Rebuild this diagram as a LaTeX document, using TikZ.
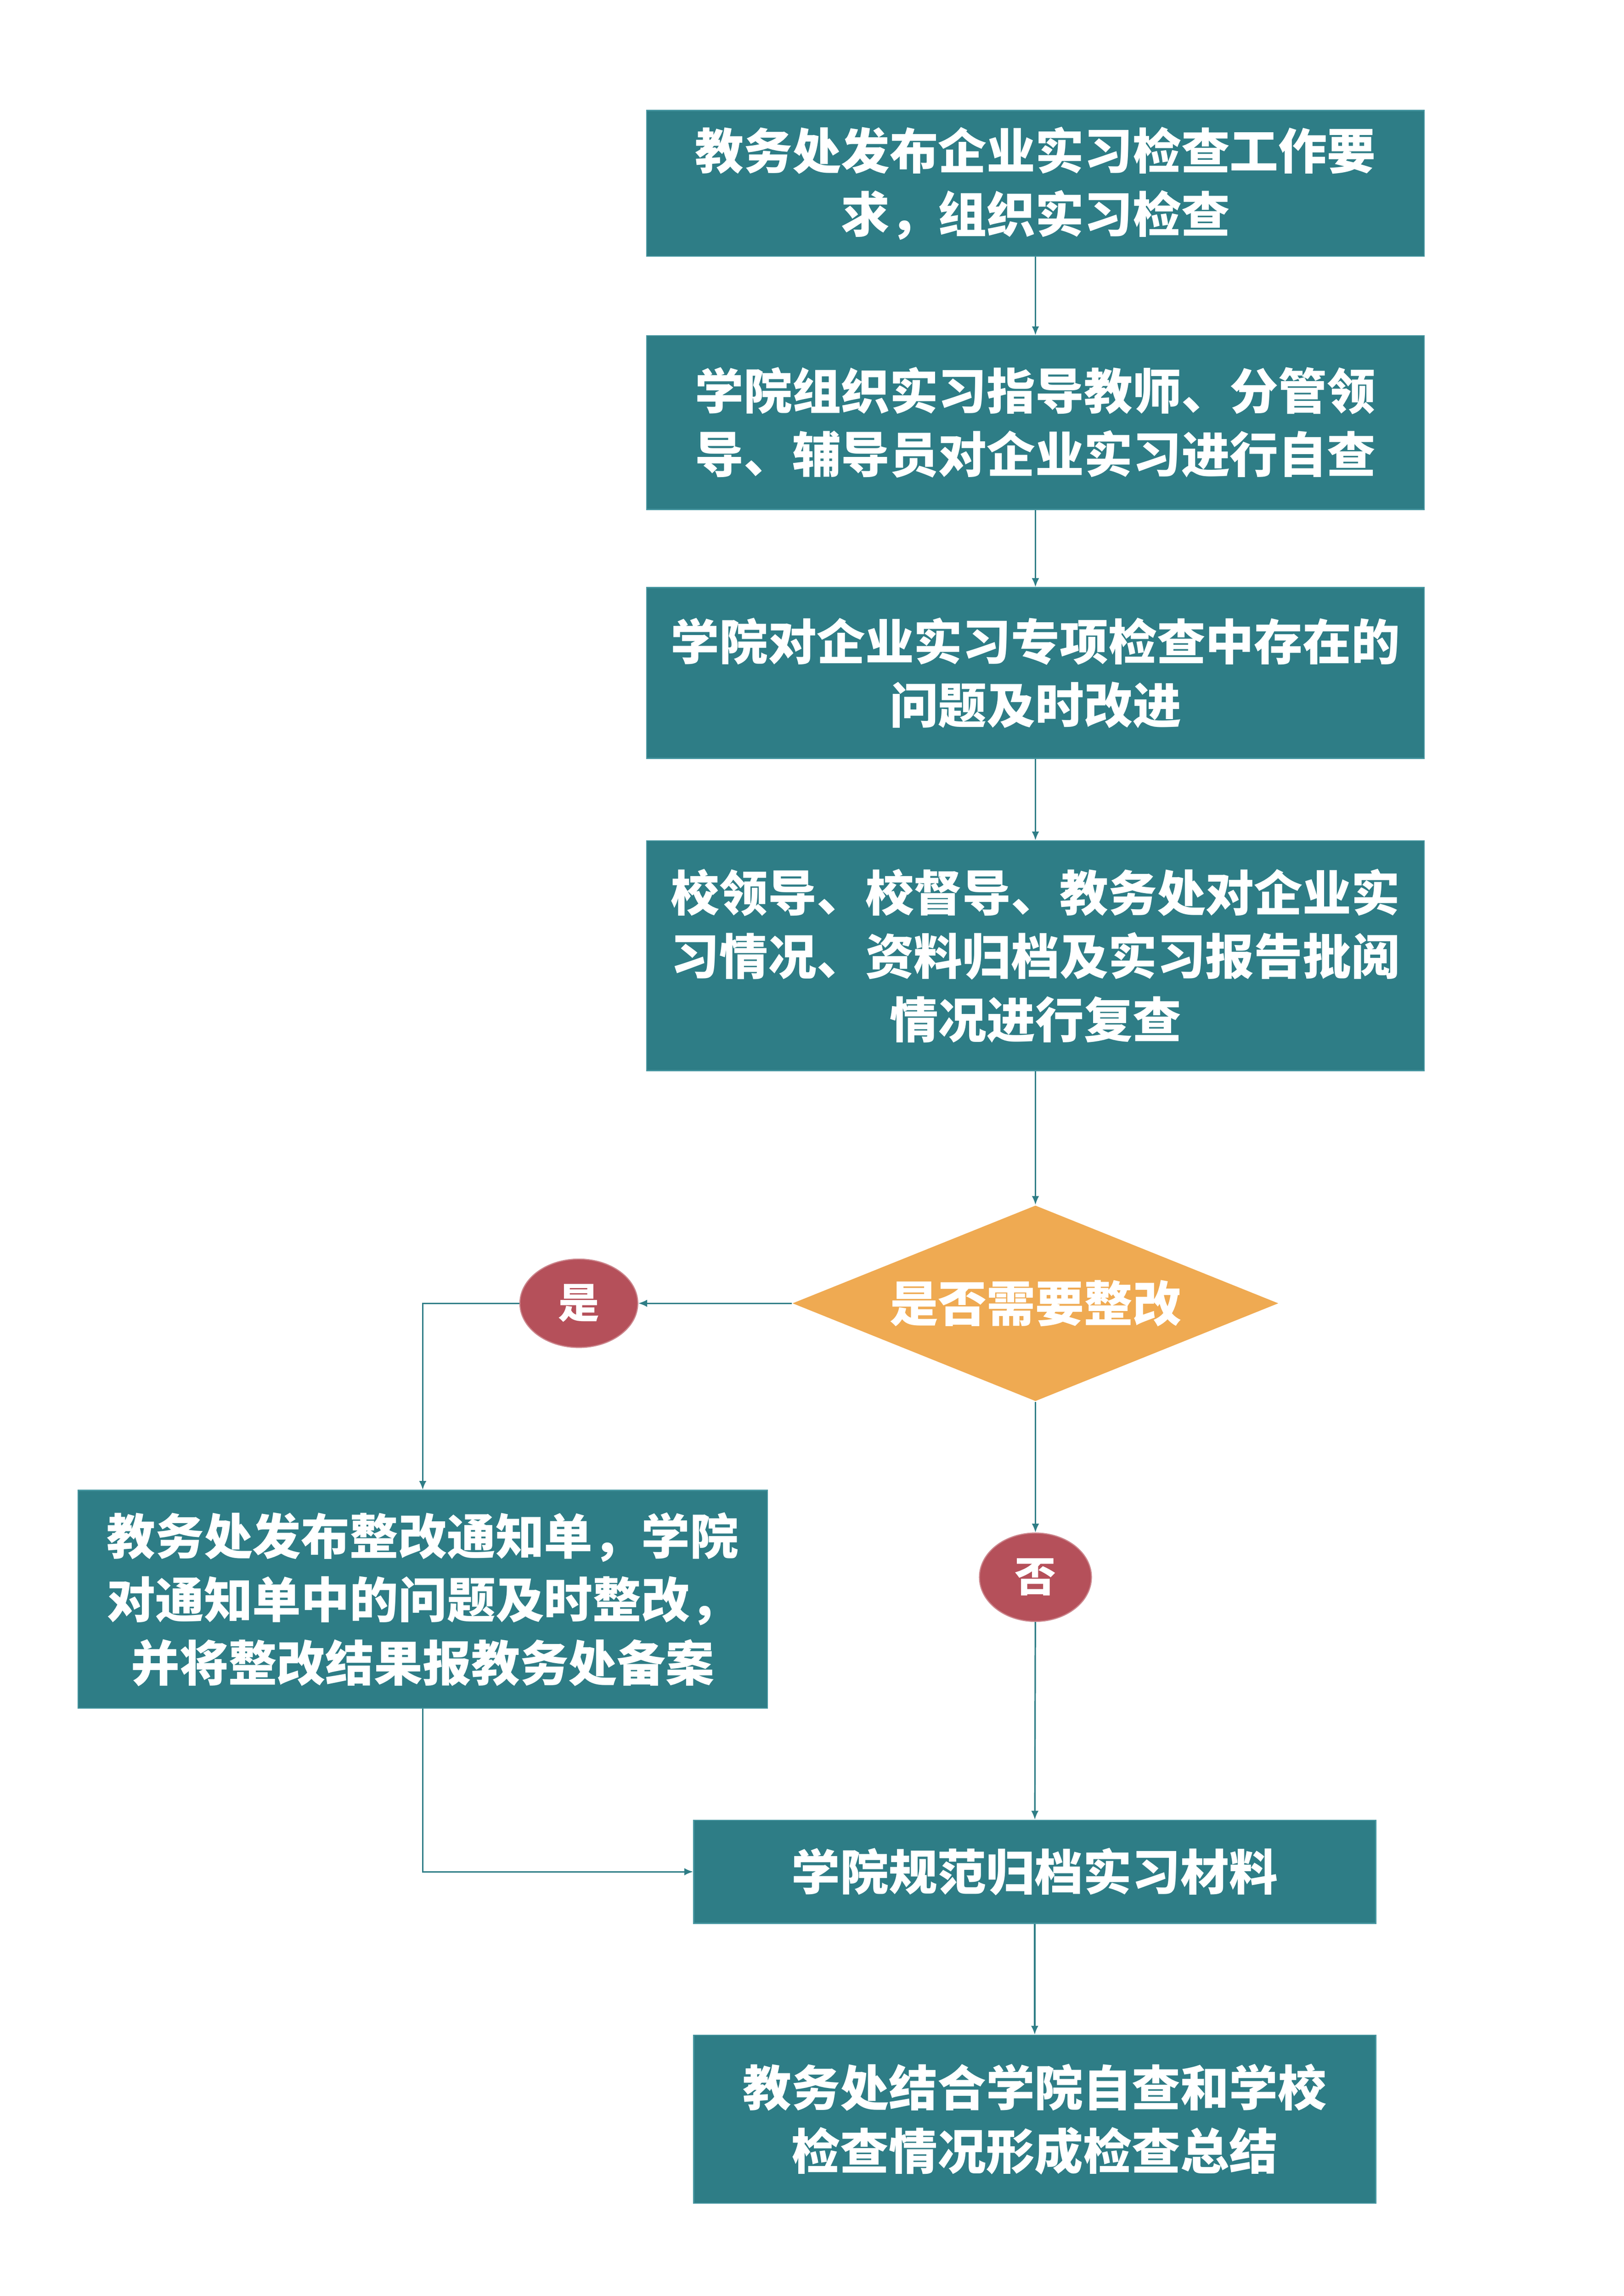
\documentclass[tikz,border=0pt]{standalone}
\usepackage{fontspec}
\newfontfamily\cjk{Noto Sans CJK SC}
\usetikzlibrary{shapes.geometric,arrows.meta}
\definecolor{tealbox}{RGB}{46,125,134}
\definecolor{tealline}{RGB}{70,150,160}
\definecolor{orangedia}{RGB}{239,170,82}
\definecolor{redoval}{RGB}{181,80,90}
\tikzset{every picture/.style={line width=0.75pt}}
\tikzset{
  flowbox/.style={draw=tealline,fill=tealbox,text=white,align=center,inner sep=0pt,
    font=\cjk\bfseries\fontsize{33}{43}\selectfont},
  choice/.style={diamond,fill=orangedia,text=white,inner sep=0pt,aspect=2.48,
    minimum width=330,minimum height=133,font=\cjk\bfseries\fontsize{33}{43}\selectfont},
  answer/.style={ellipse,draw=redoval!70!white,fill=redoval,text=white,inner sep=0pt,
    font=\cjk\bfseries\fontsize{28}{34}\selectfont},
  link/.style={draw=tealbox,line width=1pt,-{Latex[length=6pt,width=5pt]}}
}
\begin{document}
\begin{tikzpicture}[x=1pt,y=1pt,yscale=-1,xscale=1]
%page frame
\useasboundingbox (0,0) rectangle (1102.4,1559.1);

%Process boxes
\node [flowbox,minimum width=528,minimum height=99] (check) at (703,124.5) {教务处发布企业实习检查工作要\\求，组织实习检查};
\node [flowbox,minimum width=528,minimum height=118] (self) at (703,287) {学院组织实习指导教师、分管领\\导、辅导员对企业实习进行自查};
\node [flowbox,minimum width=528,minimum height=116] (improve) at (703,457) {学院对企业实习专项检查中存在的\\问题及时改进};
\node [flowbox,minimum width=528,minimum height=156] (recheck) at (703,649) {校领导、校督导、教务处对企业实\\习情况、资料归档及实习报告批阅\\情况进行复查};

%Decision
\node [choice] (need) at (703,885) {是否需要整改};
\node [answer,minimum width=80,minimum height=60] (yes) at (393,885) {是};
\node [answer,minimum width=76,minimum height=60] (no) at (703,1071) {否};

\node [flowbox,minimum width=468,minimum height=148] (notice) at (287,1086) {教务处发布整改通知单，学院\\对通知单中的问题及时整改，\\并将整改结果报教务处备案};
\node [flowbox,minimum width=463,minimum height=70] (archive) at (702.5,1271) {学院规范归档实习材料};
\node [flowbox,minimum width=463,minimum height=114] (summary) at (702.5,1439) {教务处结合学院自查和学校\\检查情况形成检查总结};

%Connectors
\draw [link] (check) -- (self);
\draw [link] (self) -- (improve);
\draw [link] (improve) -- (recheck);
\draw [link] (recheck) -- (need);
\draw [link] (need.west) -- (yes);
\draw [link] (yes.west) -| (notice.north);
\draw [link] (need.south) -- (no);
\draw [link] (no) -- (archive);
\draw [link] (notice.south) |- (archive.west);
\draw [link] (archive) -- (summary);
\end{tikzpicture}
\end{document}
